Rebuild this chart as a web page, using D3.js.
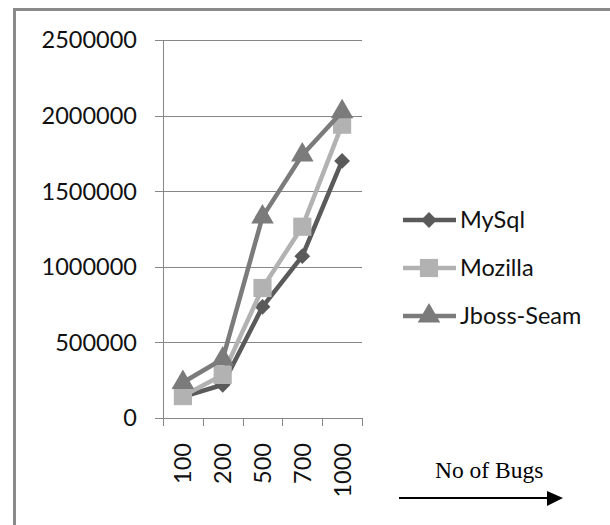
<!DOCTYPE html>
<html><head><meta charset="utf-8">
<script src="https://cdn.jsdelivr.net/npm/d3@7"></script>
<style>body{margin:0;background:#fff}svg{display:block}</style>
</head><body>
<script>
const categories = ["100","200","500","700","1000"];
const seriesNames = ["MySql","Mozilla","Jboss-Seam"];
const mysql = [140000, 220000, 735000, 1070000, 1700000];
const mozilla = [145000, 285000, 860000, 1265000, 1940000];
const jboss = [235000, 390000, 1330000, 1740000, 2025000];
const yTicks = [0, 500000, 1000000, 1500000, 2000000, 2500000];
const xTitle = "No of Bugs";

const W = 610, H = 525;
const svg = d3.select("body").append("svg").attr("width", W).attr("height", H);
const font = "Lato, 'Open Sans', sans-serif";

// frame
svg.append("path").attr("d", "M14.5,525 V9.5 H610").attr("fill","none").attr("stroke","#8a8a8a").attr("stroke-width",3);

const x = d3.scaleBand().domain(categories).range([163, 362]).padding(0);
const y = d3.scaleLinear().domain([0, 2500000]).range([418, 40]);

// gridlines + tick marks
svg.append("g").selectAll("line").data(yTicks).join("line")
  .attr("x1", 155).attr("x2", 362)
  .attr("y1", d => Math.round(y(d)) + 0.5).attr("y2", d => Math.round(y(d)) + 0.5)
  .attr("stroke", "#868686").attr("stroke-width", 1);

// y labels
svg.append("g").selectAll("text").data(yTicks).join("text")
  .attr("x", 137).attr("y", d => y(d)).attr("dy", "0.36em")
  .attr("text-anchor", "end").attr("font-family", font).attr("font-size", 23.5)
  .attr("fill", "#111").text(d => d);

// y axis line
svg.append("line").attr("x1", 163.5).attr("x2", 163.5).attr("y1", 40).attr("y2", 418)
  .attr("stroke", "#868686");

// x axis ticks at band boundaries
const bounds = categories.map(c => x(c)).concat([x.range()[1]]);
svg.append("g").selectAll("line").data(bounds).join("line")
  .attr("x1", d => Math.round(d) + 0.5).attr("x2", d => Math.round(d) + 0.5)
  .attr("y1", 418).attr("y2", 426).attr("stroke", "#868686");

// x labels rotated
svg.append("g").selectAll("text").data(categories).join("text")
  .attr("transform", d => `translate(${x(d) + x.bandwidth()/2},443) rotate(-90)`)
  .attr("dy", "0.36em").attr("text-anchor", "end")
  .attr("font-family", font).attr("font-size", 23.5).attr("fill", "#111").text(d => d);

const series = [
  {name: seriesNames[0], values: mysql, color: "#5a5a5a", marker: "diamond"},
  {name: seriesNames[1], values: mozilla, color: "#b2b2b2", marker: "square"},
  {name: seriesNames[2], values: jboss, color: "#7b7b7b", marker: "triangle"}
];
const sym = {
  diamond: d3.symbol().type(d3.symbolSquare).size(125),
  square: d3.symbol().type(d3.symbolSquare).size(330),
  triangle: d3.symbol().type(d3.symbolTriangle).size(220)
};
const rot = {diamond: " rotate(45)", square: "", triangle: ""};
const line = d3.line().x((d,i) => x(categories[i]) + x.bandwidth()/2).y(d => y(d));

series.forEach(s => {
  const g = svg.append("g");
  g.append("path").datum(s.values).attr("d", line).attr("fill", "none")
    .attr("stroke", s.color).attr("stroke-width", 4.5).attr("stroke-linejoin", "round");
  g.selectAll("path.m").data(s.values).join("path").attr("class", "m")
    .attr("transform", (d,i) => `translate(${x(categories[i]) + x.bandwidth()/2},${y(d)})${rot[s.marker]}`)
    .attr("d", sym[s.marker]).attr("fill", s.color);
});

// legend
const legY = [220, 268, 316];
series.forEach((s, i) => {
  const g = svg.append("g").attr("transform", `translate(0,${legY[i]})`);
  g.append("line").attr("x1", 403).attr("x2", 456).attr("y1", 0).attr("y2", 0)
    .attr("stroke", s.color).attr("stroke-width", 4.5);
  g.append("path").attr("transform", `translate(429,0)${rot[s.marker]}`).attr("d", sym[s.marker]).attr("fill", s.color);
  g.append("text").attr("x", 460).attr("y", 0).attr("dy", "0.36em")
    .attr("font-family", font).attr("font-size", 23.5).attr("fill", "#111").text(s.name);
});

// x title and arrow
svg.append("text").attr("x", 435).attr("y", 478).attr("font-family", "'Liberation Serif', 'Times New Roman', serif")
  .attr("font-size", 23.5).attr("fill", "#000").text(xTitle);
svg.append("line").attr("x1", 399).attr("x2", 550).attr("y1", 498).attr("y2", 498)
  .attr("stroke", "#000").attr("stroke-width", 2);
svg.append("path").attr("d", "M547,491 L563,498 L547,506 Z").attr("fill", "#000");
</script>
</body></html>
